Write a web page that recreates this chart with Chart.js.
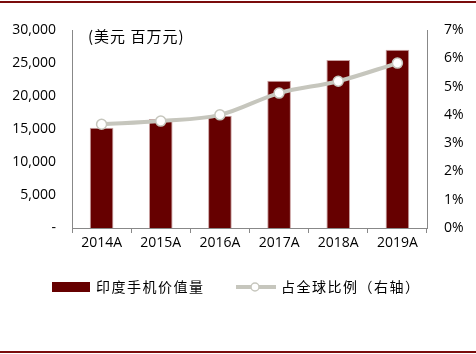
<!DOCTYPE html>
<html>
<head>
<meta charset="utf-8">
<script src="https://cdn.jsdelivr.net/npm/chart.js@4/dist/chart.umd.min.js"></script>
<style>
  html, body { margin: 0; padding: 0; background: #fff; }
  #wrap { position: relative; width: 476px; height: 354px; }
  #wrap:before, #wrap:after { content: ''; position: absolute; left: 0; width: 476px; height: 2px; background: #7a0c0c; z-index: 2; }
  #wrap:before { top: 1px; }
  #wrap:after { top: 351px; }
</style>
</head>
<body>
<div id="wrap"><canvas id="grafico" width="476" height="354"></canvas></div>
<script>
const anos = ['2014A', '2015A', '2016A', '2017A', '2018A', '2019A'];
const valorIndia = [15200, 16500, 17000, 22300, 25450, 27000];
const fatiaGlobal = [3.67, 3.78, 4.0, 4.77, 5.19, 5.83];
const nomeBarras = '印度手机价值量';
const nomeLinha = '占全球比例（右轴）';
const unidade = '(美元 百万元)';

const corBarra = '#660000';
const corLinha = '#c6c6bd';
const fonteNum = "'Open Sans', 'Liberation Sans', sans-serif";
const fonteCjk = "'Noto Sans CJK SC', sans-serif";

const extras = {
    id: 'extras',
    afterDraw(chart) {
        const ctx = chart.ctx;
        ctx.save();
        ctx.fillStyle = '#000';
        ctx.font = '15px ' + fonteCjk;
        ctx.textBaseline = 'middle';
        ctx.letterSpacing = '1px';
        ctx.fillText(unidade, 88, 36);

        // legenda
        const ly = 287;
        ctx.fillStyle = corBarra;
        ctx.fillRect(52, 282, 38, 10);
        ctx.fillStyle = '#000';
        ctx.font = '14px ' + fonteCjk;
        ctx.letterSpacing = '1.5px';
        ctx.fillText(nomeBarras, 96, ly);

        ctx.strokeStyle = corLinha;
        ctx.lineWidth = 4;
        ctx.beginPath();
        ctx.moveTo(236, ly);
        ctx.lineTo(276, ly);
        ctx.stroke();
        ctx.beginPath();
        ctx.arc(255, ly, 4, 0, Math.PI * 2);
        ctx.fillStyle = '#fff';
        ctx.fill();
        ctx.lineWidth = 1.5;
        ctx.stroke();
        ctx.fillStyle = '#000';
        ctx.fillText(nomeLinha, 281, ly);
        ctx.restore();
    }
};

const ctxGrafico = document.getElementById('grafico').getContext('2d');
const grafico = new Chart(ctxGrafico, {
    type: 'bar',
    data: {
        labels: anos,
        datasets: [{
            type: 'line',
            label: nomeLinha,
            data: fatiaGlobal,
            yAxisID: 'y2',
            borderColor: corLinha,
            borderWidth: 4,
            tension: 0.35,
            pointRadius: 5,
            pointBackgroundColor: '#fff',
            pointBorderColor: corLinha,
            pointBorderWidth: 1.5,
            order: 0
        }, {
            label: nomeBarras,
            data: valorIndia,
            yAxisID: 'y',
            backgroundColor: corBarra,
            borderColor: '#c9a0a0',
            borderWidth: { left: 1, right: 1, top: 1, bottom: 0 },
            barPercentage: 0.4,
            categoryPercentage: 1,
            order: 1
        }]
    },
    options: {
        responsive: false,
        animation: false,
        layout: { padding: { top: 30, bottom: 96, left: 0, right: 0 } },
        plugins: {
            legend: { display: false },
            tooltip: { enabled: false }
        },
        scales: {
            x: {
                offset: true,
                afterFit(s) { s.height = 30; },
                grid: { offset: true, drawOnChartArea: false, tickLength: 5, color: '#888' },
                border: { color: '#888' },
                ticks: { color: '#000', font: { family: fonteNum, size: 14 }, padding: 2 }
            },
            y: {
                position: 'left',
                min: 0,
                max: 30000,
                afterFit(s) { s.width = 72; },
                grid: { display: false, drawTicks: false },
                border: { color: '#888' },
                ticks: {
                    stepSize: 5000,
                    color: '#000',
                    padding: 16,
                    font: { family: fonteNum, size: 14 },
                    callback: v => v === 0 ? '-' : v.toLocaleString('en-US')
                }
            },
            y2: {
                position: 'right',
                min: 0,
                max: 7,
                afterFit(s) { s.width = 49; },
                grid: { display: false, drawTicks: false },
                border: { color: '#888' },
                ticks: {
                    stepSize: 1,
                    color: '#000',
                    padding: 17,
                    font: { family: fonteNum, size: 14 },
                    callback: v => v + '%'
                }
            }
        }
    },
    plugins: [extras]
});
</script>
</body>
</html>
